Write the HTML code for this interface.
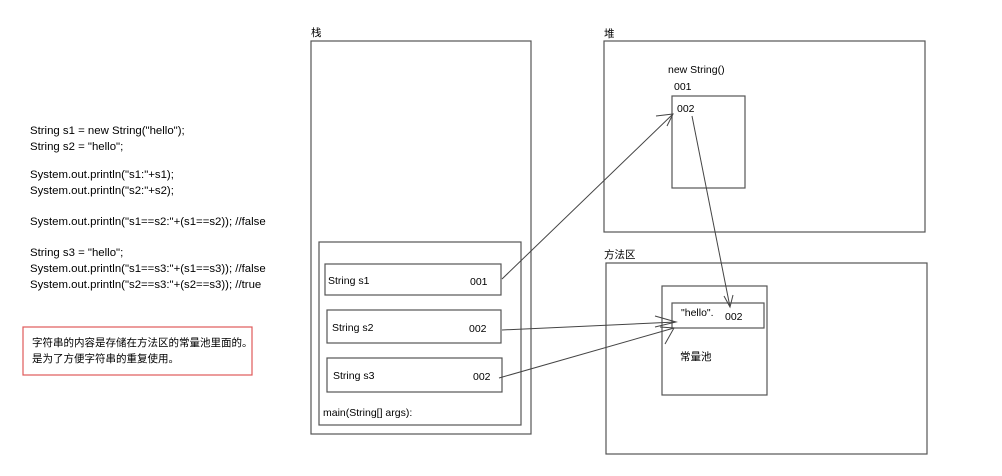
<!DOCTYPE html>
<html><head><meta charset="utf-8"><style>
html,body{margin:0;padding:0;background:#fff}
svg{display:block}
text{font-family:"Liberation Sans","Noto Sans CJK SC",sans-serif;font-size:10.5px;fill:#000}
.c{font-size:11.4px}
</style></head><body>
<svg width="1002" height="476" viewBox="0 0 1002 476" xmlns="http://www.w3.org/2000/svg">
<g fill="none" stroke="#555" stroke-width="1.2">
<rect x="311" y="41" width="220" height="393"/>
<rect x="319" y="242" width="202" height="183"/>
<rect x="325" y="264" width="176" height="31"/>
<rect x="327" y="310" width="174" height="33"/>
<rect x="327" y="358" width="175" height="34"/>
<rect x="604" y="41" width="321" height="191"/>
<rect x="672" y="96" width="73" height="92"/>
<rect x="606" y="263" width="321" height="191"/>
<rect x="662" y="286" width="105" height="109"/>
<rect x="672" y="303" width="92" height="25"/>
</g>
<rect x="23" y="327" width="229" height="48" fill="none" stroke="#e05a5a" stroke-width="1.2"/>
<g stroke="#444" stroke-width="1" fill="none">
<line x1="502" y1="279" x2="673" y2="114"/>
<polyline points="656,116 673,114 667,126"/>
<line x1="692" y1="116" x2="730" y2="307"/>
<polyline points="724,296 730,307 733,295"/>
<line x1="502" y1="330" x2="676" y2="322"/>
<polyline points="655,316 676,322 655,327"/>
<line x1="499" y1="378" x2="674" y2="328"/>
<polyline points="660,327 674,328 665,344"/>
</g>
<text x="311" y="36">栈</text>
<text x="604" y="37">堆</text>
<text x="604" y="258">方法区</text>
<text x="668" y="73">new String()</text>
<text x="674" y="90">001</text>
<text x="677" y="112">002</text>
<text x="328" y="284">String s1</text><text x="470" y="285">001</text>
<text x="332" y="331">String s2</text><text x="469" y="332">002</text>
<text x="333" y="379">String s3</text><text x="473" y="380">002</text>
<text x="323" y="416">main(String[] args):</text>
<text x="681" y="316">"hello".</text><text x="725" y="320">002</text>
<text x="680" y="360">常量池</text>
<text class="c" x="30" y="134">String s1 = new String("hello");</text>
<text class="c" x="30" y="150">String s2 = "hello";</text>
<text class="c" x="30" y="178">System.out.println("s1:"+s1);</text>
<text class="c" x="30" y="194">System.out.println("s2:"+s2);</text>
<text class="c" x="30" y="225">System.out.println("s1==s2:"+(s1==s2)); //false</text>
<text class="c" x="30" y="256">String s3 = "hello";</text>
<text class="c" x="30" y="272">System.out.println("s1==s3:"+(s1==s3)); //false</text>
<text class="c" x="30" y="288">System.out.println("s2==s3:"+(s2==s3)); //true</text>
<text x="32" y="346">字符串的内容是存储在方法区的常量池里面的。</text>
<text x="32" y="362">是为了方便字符串的重复使用。</text>
</svg>
</body></html>
